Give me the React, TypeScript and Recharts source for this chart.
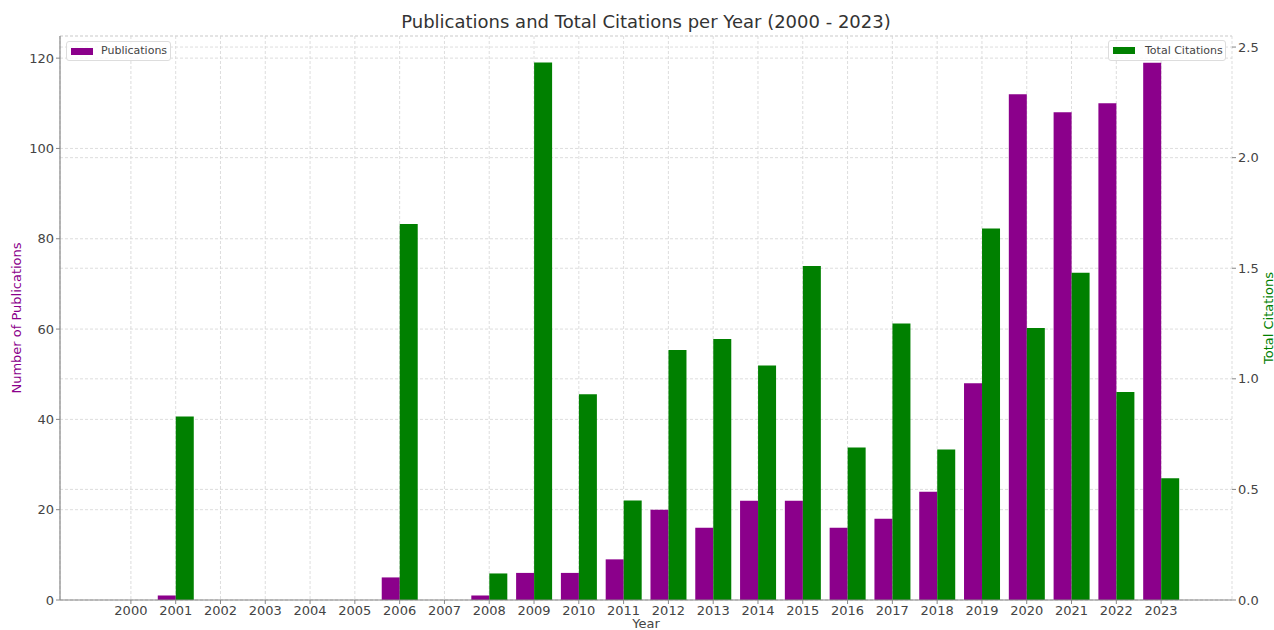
import React from "react";
import { BarChart, Bar, XAxis, YAxis, CartesianGrid, Label } from "recharts";

const years = ["2000","2001","2002","2003","2004","2005","2006","2007","2008","2009","2010","2011","2012","2013","2014","2015","2016","2017","2018","2019","2020","2021","2022","2023"];
const publications = [0,1,0,0,0,0,5,0,1,6,6,9,20,16,22,22,16,18,24,48,112,108,110,119];
const citations = [0,0.83,0,0,0,0,1.70,0,0.12,2.43,0.93,0.45,1.13,1.18,1.06,1.51,0.69,1.25,0.68,1.68,1.23,1.48,0.94,0.55];
const leftTicks = [0,20,40,60,80,100,120];
const rightTicks = [0,0.5,1.0,1.5,2.0,2.5];

const data = years.map((y, i) => ({ year: y, pub: publications[i], cit: citations[i] }));

const FONT = "DejaVu Sans, sans-serif";
const PURPLE = "#8B008B";
const GREEN = "#008000";
const TICK_COLOR = "#444";
const SPINE = "#888";

const LeftLabel = (props: any) => {
  const vb = props.viewBox;
  const x = vb.x + 17;
  const y = vb.y + vb.height / 2;
  return (
    <text x={x} y={y} transform={`rotate(-90 ${x} ${y})`} textAnchor="middle" dominantBaseline="middle" fill={PURPLE} fontSize={13} fontFamily={FONT}>
      Number of Publications
    </text>
  );
};

const RightLabel = (props: any) => {
  const vb = props.viewBox;
  const x = vb.x + vb.width - 5;
  const y = vb.y + vb.height / 2;
  return (
    <text x={x} y={y} transform={`rotate(-90 ${x} ${y})`} textAnchor="middle" dominantBaseline="middle" fill={GREEN} fontSize={13} fontFamily={FONT}>
      Total Citations
    </text>
  );
};

const XLabel = (props: any) => {
  const vb = props.viewBox;
  const x = vb.x + vb.width / 2;
  return (
    <text x={x} y={vb.y + 28} textAnchor="middle" fill="#444" fontSize={13} fontFamily={FONT}>
      Year
    </text>
  );
};

export default function App() {
  return (
    <div style={{ position: "absolute", left: 0, top: 0, width: 1274, height: 630, background: "#fff", fontFamily: FONT }}>
      <div style={{ position: "absolute", left: 0, width: 1292, top: 11, textAlign: "center", fontSize: 18, lineHeight: "22px", color: "#333" }}>
        Publications and Total Citations per Year (2000 - 2023)
      </div>
      <BarChart
        width={1274}
        height={630}
        data={data}
        margin={{ top: 36, right: 0, left: 0, bottom: 0 }}
        barCategoryGap="10%"
        barGap={0}
      >
        <CartesianGrid yAxisId="left" stroke="#d4d4d4" strokeDasharray="3 2" strokeWidth={0.8} />
        <CartesianGrid yAxisId="right" vertical={false} stroke="#d4d4d4" strokeDasharray="3 2" strokeWidth={0.8} />
        <XAxis
          dataKey="year"
          interval={0}
          height={30}
          padding={{ left: 48.5, right: 48.5 }}
          tick={{ fill: TICK_COLOR, fontSize: 13, fontFamily: FONT }}
          tickSize={4}
          axisLine={{ stroke: SPINE, strokeWidth: 1.2 }}
          tickLine={{ stroke: SPINE }}
        >
          <Label content={XLabel} />
        </XAxis>
        <YAxis
          yAxisId="left"
          orientation="left"
          width={60}
          domain={[0, 124.9]}
          ticks={leftTicks}
          allowDataOverflow
          tick={{ fill: TICK_COLOR, fontSize: 13, fontFamily: FONT }}
          tickSize={4}
          axisLine={{ stroke: SPINE, strokeWidth: 1.2 }}
          tickLine={{ stroke: SPINE }}
        >
          <Label content={LeftLabel} />
        </YAxis>
        <YAxis
          yAxisId="right"
          orientation="right"
          width={42}
          domain={[0, 2.55]}
          ticks={rightTicks}
          allowDataOverflow
          tickFormatter={(v: number) => v.toFixed(1)}
          tick={{ fill: TICK_COLOR, fontSize: 13, fontFamily: FONT }}
          tickSize={4}
          axisLine={false}
          tickLine={{ stroke: SPINE }}
        >
          <Label content={RightLabel} />
        </YAxis>
        <Bar yAxisId="left" dataKey="pub" fill={PURPLE} isAnimationActive={false} />
        <Bar yAxisId="right" dataKey="cit" fill={GREEN} isAnimationActive={false} />
      </BarChart>
      <div style={{ position: "absolute", left: 66, top: 41, width: 105, height: 20, boxSizing: "border-box", border: "1px solid #ddd", borderRadius: 3, background: "rgba(255,255,255,0.8)", fontSize: 11, color: "#444" }}>
        <div style={{ position: "absolute", left: 4, top: 6, width: 22, height: 7, background: PURPLE }} />
        <div style={{ position: "absolute", left: 34, top: 2, lineHeight: "14px" }}>Publications</div>
      </div>
      <div style={{ position: "absolute", left: 1108, top: 40, width: 118, height: 21, boxSizing: "border-box", border: "1px solid #ddd", borderRadius: 3, background: "rgba(255,255,255,0.8)", fontSize: 11, color: "#444" }}>
        <div style={{ position: "absolute", left: 4, top: 6, width: 22, height: 7, background: GREEN }} />
        <div style={{ position: "absolute", left: 36, top: 3, lineHeight: "14px" }}>Total Citations</div>
      </div>
    </div>
  );
}
